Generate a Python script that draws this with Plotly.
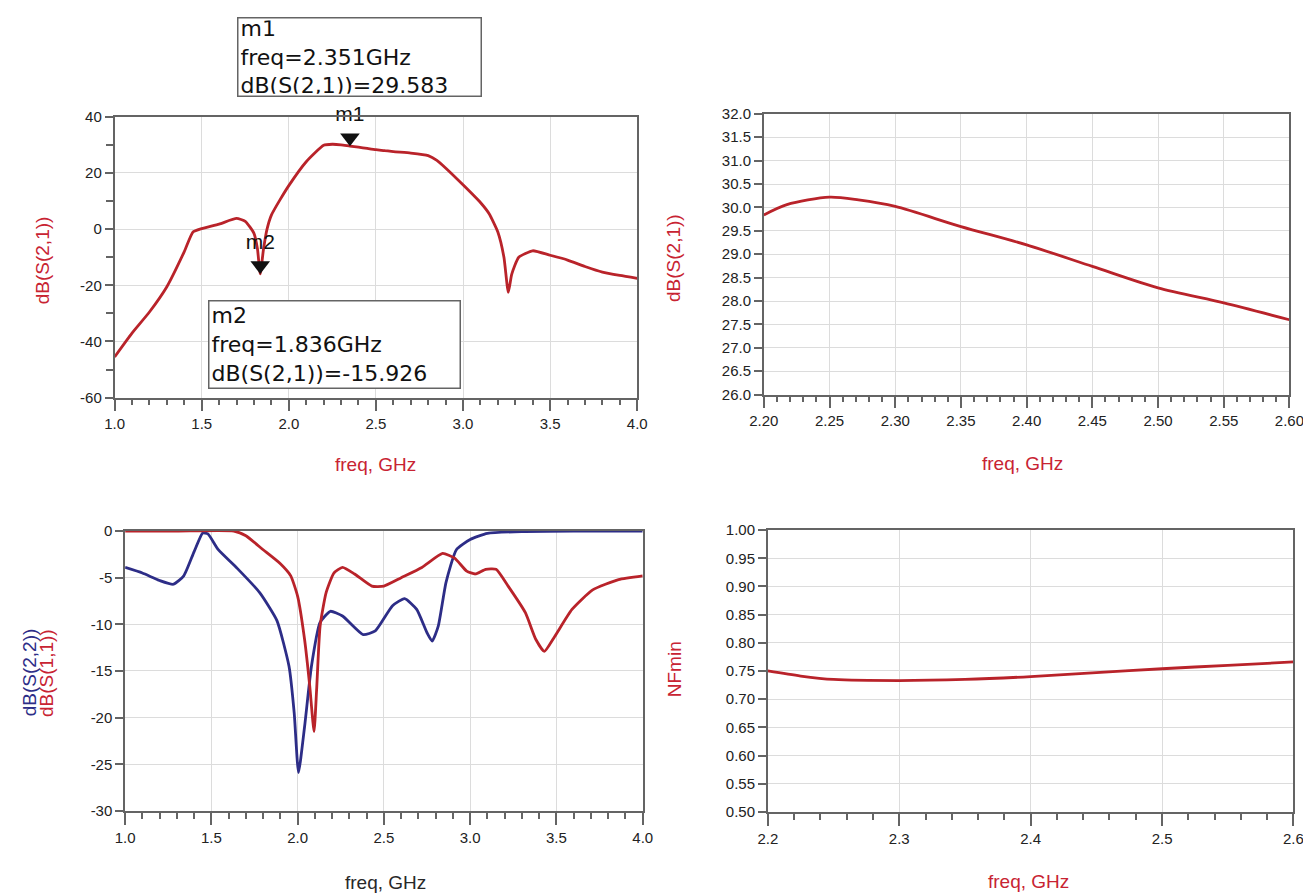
import plotly.graph_objects as go

W, H = 1311, 894

# ---------------- data ----------------
s21_freq = [1.00, 1.10, 1.20, 1.30, 1.40, 1.45, 1.50, 1.60, 1.70, 1.75, 1.80, 1.82, 1.836, 1.855, 1.875,
            1.90, 1.95, 2.00, 2.10, 2.20, 2.25, 2.30, 2.351, 2.40, 2.45, 2.50, 2.55, 2.60, 2.70, 2.80,
            2.85, 2.90, 3.00, 3.10, 3.15, 3.20, 3.235, 3.26, 3.28, 3.32, 3.40, 3.50, 3.60, 3.70, 3.80,
            3.90, 4.00]
s21_db = [-45.5, -37.0, -29.5, -20.5, -8.0, -1.0, 0.2, 1.8, 3.8, 2.8, -1.5, -7.0, -15.926, -7.0, 0.0,
          5.0, 10.5, 15.5, 24.0, 29.84, 30.22, 30.02, 29.583, 29.2, 28.74, 28.28, 27.96, 27.6, 27.1, 26.2,
          24.5, 21.8, 15.8, 9.5, 5.5, -1.0, -10.0, -22.5, -16.0, -10.0, -7.7, -9.3, -11.0, -13.3, -15.3,
          -16.5, -17.5]

zoom_freq = [2.20, 2.2175, 2.25, 2.272, 2.30, 2.35, 2.40, 2.45, 2.50, 2.55, 2.60]
zoom_db = [29.84, 30.06, 30.22, 30.16, 30.02, 29.59, 29.20, 28.74, 28.28, 27.96, 27.60]

s22_freq = [1.00, 1.10, 1.20, 1.28, 1.34, 1.40, 1.45, 1.48, 1.54, 1.65, 1.78, 1.88, 1.95, 1.98, 2.005,
            2.04, 2.08, 2.13, 2.19, 2.26, 2.38, 2.45, 2.55, 2.62, 2.69, 2.75, 2.78, 2.815, 2.86, 2.92,
            3.00, 3.10, 3.30, 3.60, 4.00]
s22_db = [-3.9, -4.5, -5.3, -5.7, -4.8, -2.2, -0.2, -0.3, -2.0, -4.0, -6.6, -9.6, -14.5, -19.5, -25.9,
          -21.0, -14.5, -9.8, -8.6, -9.1, -11.1, -10.7, -8.0, -7.25, -8.4, -10.9, -11.8, -10.2, -5.5, -2.0,
          -0.9, -0.25, -0.05, 0.0, 0.0]

s11_freq = [1.00, 1.30, 1.63, 1.70, 1.80, 1.90, 1.96, 2.00, 2.04, 2.07, 2.095, 2.11, 2.13, 2.165, 2.21,
            2.26, 2.33, 2.43, 2.50, 2.60, 2.72, 2.84, 2.91, 2.98, 3.03, 3.09, 3.15, 3.22, 3.32, 3.38,
            3.43, 3.49, 3.59, 3.71, 3.86, 4.00]
s11_db = [0.0, 0.0, 0.0, -0.5, -2.0, -3.5, -4.8, -7.0, -11.6, -16.6, -21.5, -17.0, -10.2, -6.6, -4.5,
          -3.9, -4.6, -5.9, -5.9, -5.0, -3.9, -2.4, -2.9, -4.3, -4.6, -4.1, -4.1, -5.9, -8.75, -11.6,
          -12.9, -11.3, -8.4, -6.3, -5.2, -4.8]

nf_freq = [2.20, 2.225, 2.25, 2.30, 2.35, 2.40, 2.45, 2.50, 2.55, 2.60]
nf_val = [0.750, 0.741, 0.735, 0.733, 0.735, 0.740, 0.747, 0.754, 0.760, 0.766]

marker_names = ["m1", "m2"]
marker_freq = [2.351, 1.836]
marker_db = [29.583, -15.926]

s21_ticks = [40, 20, 0, -20, -40, -60]
s21_ticktext = ["40", "20", "0", "-20", "-40", "-60"]
sp_ticks = [0, -5, -10, -15, -20, -25, -30]
sp_ticktext = ["0", "-5", "-10", "-15", "-20", "-25", "-30"]

# ---------------- style ----------------
RED = "rgb(185,35,42)"
BLUE = "rgb(45,45,135)"
TITLE_RED = "rgb(200,35,50)"
FONT = "Liberation Sans, Arial, sans-serif"
BOXFONT = "DejaVu Sans, Liberation Sans, sans-serif"
GRID = "rgb(220,220,220)"
FRAME = "rgb(100,100,100)"

# pixel calibration (target picture coords -> layout coords)
SX, OX = 0.976, 23.0
SY, OY = 0.978, 19.5


def px(x):
    return (x - OX) / SX


def py(y):
    return (y - OY) / SY


# plot boxes in target pixels: (x0, x1, ytop, ybottom)
boxes = {
    "tl": (114.5, 636.5, 119, 399),
    "tr": (763, 1288, 116, 396),
    "bl": (125, 642, 532, 811),
    "br": (767, 1292, 531, 812),
}


def dom(b):
    x0, x1, yt, yb = b
    return [px(x0) / W, px(x1) / W], [1 - py(yb) / H, 1 - py(yt) / H]


TICKFONT = dict(family=FONT, size=15, color="#222")


def xax(b, rng, dtick, minor, fmt, anchor):
    xd, _ = dom(b)
    return dict(domain=xd, range=rng, dtick=dtick, tick0=rng[0], tickformat=fmt,
                showline=True, mirror=True, linecolor=FRAME, linewidth=1.6,
                showgrid=True, gridcolor=GRID, gridwidth=1, zeroline=False,
                ticks="outside", ticklen=12, tickwidth=1.5, tickcolor=FRAME,
                minor=dict(dtick=minor, ticks="outside", ticklen=6, tickwidth=1.5,
                           tickcolor=FRAME, showgrid=False),
                tickfont=TICKFONT, anchor=anchor, fixedrange=True)


def yax(b, rng, dtick, fmt, anchor, minor=None, tickvals=None, ticktext=None):
    _, yd = dom(b)
    d = dict(domain=yd, range=rng, dtick=dtick, tick0=rng[0], tickformat=fmt,
             showline=True, mirror=True, linecolor=FRAME, linewidth=1.6,
             showgrid=True, gridcolor=GRID, gridwidth=1, zeroline=False,
             ticks="outside", ticklen=8, tickwidth=1.5, tickcolor=FRAME,
             tickfont=TICKFONT, anchor=anchor, fixedrange=True)
    if tickvals is not None:
        d.update(tickmode="array", tickvals=tickvals, ticktext=ticktext)
    if minor:
        d["minor"] = dict(dtick=minor, ticks="outside", ticklen=7, tickwidth=1.5,
                          tickcolor=FRAME, showgrid=False)
    return d


fig = go.Figure()


def curve(x, y, xa, ya, color, smoothing):
    fig.add_trace(go.Scatter(x=x, y=y, xaxis=xa, yaxis=ya, mode="lines",
                             line=dict(width=2.8, color=color, shape="spline", smoothing=smoothing),
                             hoverinfo="skip", showlegend=False))


curve(s21_freq, s21_db, "x", "y", RED, 0.5)
curve(zoom_freq, zoom_db, "x2", "y2", RED, 0.8)
curve(s22_freq, s22_db, "x3", "y3", BLUE, 0.5)
curve(s11_freq, s11_db, "x3", "y3", RED, 0.5)
curve(nf_freq, nf_val, "x4", "y4", RED, 0.8)

# markers: tip of downward triangle sits on the curve value
tl_range = [-60, 40]
msize = 17
px_per_db = (py(boxes["tl"][3]) - py(boxes["tl"][2])) / (tl_range[1] - tl_range[0])
tip_off = (msize / 2) / px_per_db
fig.add_trace(go.Scatter(x=marker_freq, y=[v + tip_off for v in marker_db], xaxis="x", yaxis="y",
                         mode="markers+text", text=marker_names, textposition="top center",
                         textfont=dict(family=FONT, size=21, color="#111"),
                         marker=dict(symbol="triangle-down", size=msize, color="#111"),
                         cliponaxis=False, hoverinfo="skip", showlegend=False))

fig.update_layout(
    width=W, height=H, margin=dict(l=0, r=0, t=0, b=0),
    paper_bgcolor="white", plot_bgcolor="white", showlegend=False,
    xaxis=xax(boxes["tl"], [1.0, 4.0], 0.5, 0.1, ".1f", "y"),
    yaxis=yax(boxes["tl"], tl_range, 20, "d", "x", minor=10, tickvals=s21_ticks, ticktext=s21_ticktext),
    xaxis2=xax(boxes["tr"], [2.20, 2.60], 0.05, 0.01, ".2f", "y2"),
    yaxis2=yax(boxes["tr"], [26.0, 32.0], 0.5, ".1f", "x2"),
    xaxis3=xax(boxes["bl"], [1.0, 4.0], 0.5, 0.1, ".1f", "y3"),
    yaxis3=yax(boxes["bl"], [-30, 0], 5, "d", "x3", tickvals=sp_ticks, ticktext=sp_ticktext),
    xaxis4=xax(boxes["br"], [2.2, 2.6], 0.1, 0.02, ".1f", "y4"),
    yaxis4=yax(boxes["br"], [0.50, 1.00], 0.05, ".2f", "x4"),
)

annots = []


def txt(x, y, s, color, size=19, angle=0, raw=False):
    lx = x if raw else px(x)
    ly = y if raw else py(y)
    annots.append(dict(x=lx / W, y=1 - ly / H, xref="paper", yref="paper", text=s, showarrow=False,
                       textangle=angle, font=dict(family=FONT, size=size, color=color),
                       xanchor="center", yanchor="middle"))


# axis titles
txt(375, 466, "freq, GHz", TITLE_RED)
txt(1021, 465, "freq, GHz", TITLE_RED)
txt(385, 882, "freq, GHz", "rgb(40,40,40)")
txt(1027, 881, "freq, GHz", TITLE_RED)
txt(42, 262, "dB(S(2,1))", TITLE_RED, angle=-90)
txt(672, 260, "dB(S(2,1))", TITLE_RED, angle=-90)
txt(674, 670, "NFmin", TITLE_RED, angle=-90)
txt(7, py(673), "dB(S(2,2))", BLUE, angle=-90, raw=True)
txt(24, py(673), "dB(S(1,1))", TITLE_RED, angle=-90, raw=True)

# marker readout boxes (target pixel boxes)
readouts = [
    (237, 9, 475, 97, "m1<br>freq=2.351GHz<br>dB(S(2,1))=29.583"),
    (208, 302, 454, 388, "m2<br>freq=1.836GHz<br>dB(S(2,1))=-15.926"),
]
for x0, y0, x1, y1, s in readouts:
    lx0, lx1 = px(x0), px(x1)
    ly0, ly1 = max(0.0, py(y0)), py(y1)
    annots.append(dict(x=lx0 / W, y=1 - ly0 / H, xref="paper", yref="paper", text=s, showarrow=False,
                       xanchor="left", yanchor="top", align="left", valign="middle",
                       width=lx1 - lx0 - 6, height=ly1 - ly0 - 6, borderpad=2,
                       bordercolor="rgb(100,100,100)", borderwidth=1.5, bgcolor="white",
                       font=dict(family=BOXFONT, size=22, color="#111")))

fig.update_layout(annotations=annots)
fig.write_html("out.html")
